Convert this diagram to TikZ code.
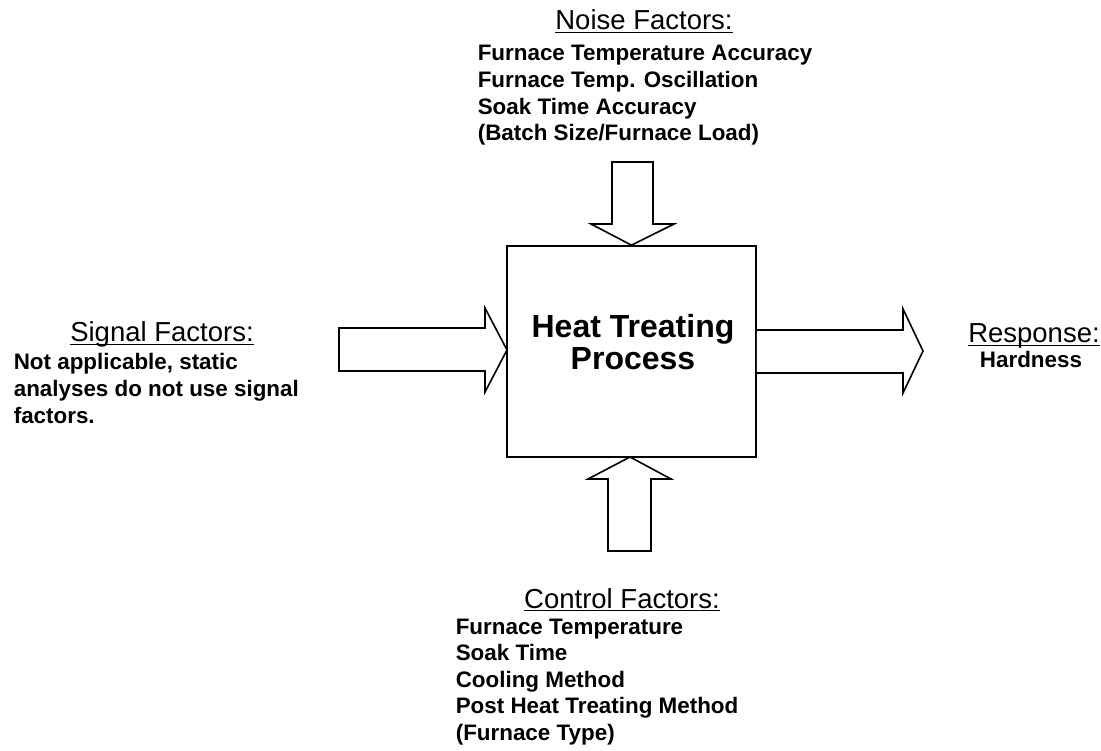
\documentclass[tikz,border=0pt]{standalone}
\usepackage{fontspec}
\setmainfont{Liberation Sans}
\newcommand\myul[1]{\setbox0\hbox{#1}\rlap{\rule[-3.4pt]{\wd0}{1.4pt}}\box0}
\begin{document}
\begin{tikzpicture}[x=1pt,y=-1pt,line width=1.6pt,line join=miter]
\tikzset{
 headtxt/.style={font=\fontsize{27.5}{30}\selectfont, inner sep=0pt},
 bodytxt/.style={font=\fontsize{22.4}{26.6}\selectfont\bfseries, inner sep=0pt},
 titletxt/.style={font=\fontsize{32}{32}\selectfont\bfseries, inner sep=0pt},
 blockarrow/.style={draw=black, fill=white, line width=1.6pt}
}
\useasboundingbox (0,0) rectangle (1101,751);
% central box
\node[draw, minimum width=249pt, minimum height=211pt, inner sep=0pt] (box) at (631.5,351.5) {};
\node[titletxt, anchor=base] (title) at (633,338) {\begin{tabular}[t]{@{}c@{}}Heat Treating\\Process\end{tabular}};
% block arrows
\coordinate (ttip) at (box.north);
\coordinate (ltip) at (507,350);
\coordinate (btip) at (630,457);
\draw[blockarrow] (612,162) -- (612,224) -- (591,224) -- (ttip) -- (674,224) -- (653,224) -- (653,162) -- cycle;
\draw[blockarrow] (339,328) -- (485,328) -- (485,308) -- (ltip) -- (485,392) -- (485,371) -- (339,371) -- cycle;
\draw[blockarrow] (box.east |- 0,330) -- (903,330) -- (903,309) -- (923,351) -- (903,393) -- (903,373) -- (box.east |- 0,373);
\draw[blockarrow] (608,551) -- (608,479) -- (588,479) -- (btip) -- (671,479) -- (651,479) -- (651,551) -- cycle;
% noise
\node[headtxt, anchor=base] (noiseh) at (644,30) {\myul{Noise Factors:}};
\node[bodytxt, anchor=base west] (noiseb) at (477,61) {\begin{tabular}[t]{@{}l@{}}Furnace Temperature Accuracy\\Furnace Temp. Oscillation\\Soak Time Accuracy\\(Batch Size/Furnace Load)\end{tabular}};
% signal
\node[headtxt, anchor=base] (signalh) at (162,342) {\myul{Signal Factors:}};
\node[bodytxt, anchor=base west] (signalb) at (13,370) {\begin{tabular}[t]{@{}l@{}}Not applicable, static\\analyses do not use signal\\factors.\end{tabular}};
% response
\node[headtxt, anchor=base] (resph) at (1034,343) {\myul{Response:}};
\node[bodytxt, anchor=base] (respb) at (1031,368) {Hardness};
% control
\node[headtxt, anchor=base] (controlh) at (622,608) {\myul{Control Factors:}};
\node[bodytxt, anchor=base west] (controlb) at (455,634) {\begin{tabular}[t]{@{}l@{}}Furnace Temperature\\Soak Time\\Cooling Method\\Post Heat Treating Method\\(Furnace Type)\end{tabular}};
\end{tikzpicture}
\end{document}
